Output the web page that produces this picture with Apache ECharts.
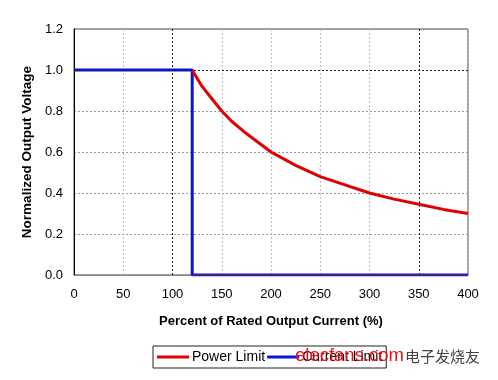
<!DOCTYPE html>
<html><head><meta charset="utf-8">
<script src="https://cdn.jsdelivr.net/npm/echarts@6/dist/echarts.min.js"></script>
<style>html,body{margin:0;padding:0;background:#fff}#c{width:498px;height:380px}</style>
</head><body><div id="c"></div>
<script>
var xTicks = [0, 50, 100, 150, 200, 250, 300, 350, 400];
var yTicks = [0.0, 0.2, 0.4, 0.6, 0.8, 1.0, 1.2];
var powerX = [120, 130, 140, 150, 160, 175, 200, 225, 250, 275, 300, 325, 350, 375, 400];
var powerY = [1.0, 0.92, 0.86, 0.80, 0.75, 0.69, 0.60, 0.535, 0.48, 0.44, 0.40, 0.37, 0.345, 0.32, 0.30];
var currentX = [0, 120, 120, 400];
var currentY = [1.0, 1.0, 0.0, 0.0];
var darkGridX = [100, 350];
var darkGridY = [1.0];

var font = 'Liberation Sans, Arial, sans-serif';
var chart = echarts.init(document.getElementById('c'));
var pData = powerX.map(function (x, i) { return [x, powerY[i]]; });
var cData = currentX.map(function (x, i) { return [x, currentY[i]]; });
var darkLines = darkGridX.map(function (v) { return { xAxis: v }; })
  .concat(darkGridY.map(function (v) { return { yAxis: v }; }));

chart.setOption({
  animation: false,
  backgroundColor: '#fff',
  grid: { left: 74, top: 29, width: 394, height: 246, show: true, borderColor: '#444', borderWidth: 1, backgroundColor: 'transparent' },
  xAxis: {
    type: 'value', min: xTicks[0], max: xTicks[xTicks.length - 1], interval: 50,
    name: 'Percent of Rated Output Current (%)', nameLocation: 'middle', nameGap: 40,
    nameTextStyle: { fontFamily: font, fontWeight: 'bold', fontSize: 13, color: '#000' },
    axisLine: { lineStyle: { color: '#888', width: 1 } },
    axisTick: { show: false },
    axisLabel: { fontFamily: font, fontSize: 13, color: '#000', margin: 13 },
    splitLine: { show: true, lineStyle: { color: '#bbb', type: [2, 2], width: 1 } }
  },
  yAxis: {
    type: 'value', min: 0, max: 1.2, interval: 0.2,
    name: 'Normalized Output Voltage', nameLocation: 'middle', nameGap: 35,
    nameTextStyle: { fontFamily: font, fontWeight: 'bold', fontSize: 13.5, color: '#000' },
    axisLine: { show: true, lineStyle: { color: '#000', width: 1 } },
    axisTick: { show: false },
    axisLabel: { fontFamily: font, fontSize: 13, color: '#000', margin: 11, formatter: function (v) { return v.toFixed(1); } },
    splitLine: { show: true, lineStyle: { color: '#999', type: [2, 2], width: 1 } }
  },
  legend: {
    left: 153, top: 346, itemWidth: 32, itemHeight: 3, itemGap: 2, padding: [4, 4, 4, 4],
    borderColor: '#222', borderWidth: 1, icon: 'rect',
    textStyle: { fontFamily: font, fontSize: 14, color: '#000', padding: [0, 0, 0, -2] },
    data: ['Power Limit', 'Current Limit']
  },
  series: [
    {
      name: 'Current Limit', type: 'line', data: cData, showSymbol: false, z: 3,
      lineStyle: { color: '#0a14d8', width: 3 }, itemStyle: { color: '#0a14d8' },
      markLine: {
        silent: true, symbol: 'none', label: { show: false },
        lineStyle: { color: '#222', type: [2, 2], width: 1 },
        data: darkLines
      }
    },
    {
      name: 'Power Limit', type: 'line', data: pData, showSymbol: false, z: 4,
      lineStyle: { color: '#e00000', width: 3 }, itemStyle: { color: '#e00000' },
      markLine: {
        silent: true, symbol: 'none', label: { show: false },
        lineStyle: { color: '#4a1890', type: 'solid', width: 2 },
        data: [[{ coord: [currentX[2], currentY[2]] }, { coord: [currentX[3], currentY[3]] }]]
      }
    }
  ],
  graphic: [
    { type: 'text', left: 295, top: 346, z: 100, style: { text: 'elecfans.com', fontFamily: font, fontSize: 18.5, fill: '#e8101a' } },
    { type: 'text', left: 405, top: 349, z: 100, style: { text: '电子发烧友', fontFamily: 'Noto Sans CJK SC', fontSize: 15, fill: '#444' } }
  ]
});
</script></body></html>
